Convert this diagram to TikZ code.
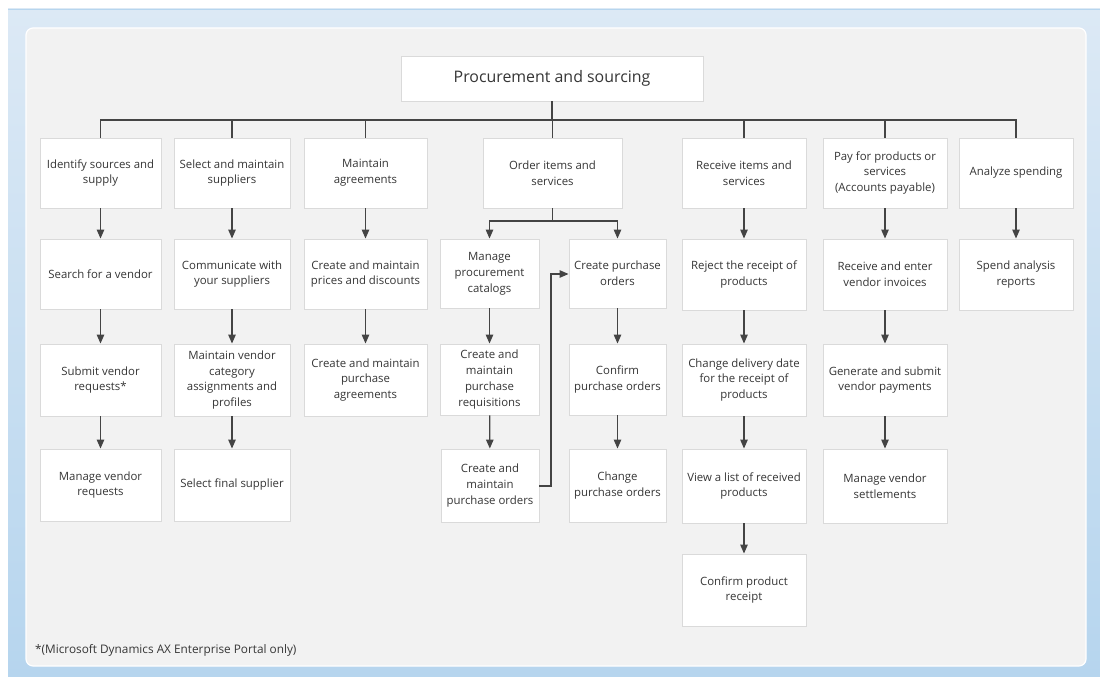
\documentclass[tikz,border=0pt]{standalone}
\usepackage{fontspec}
\setmainfont{Open Sans}
\usetikzlibrary{arrows.meta,calc}
\definecolor{bgblueT}{HTML}{DCE9F5}
\definecolor{bgblueB}{HTML}{B6D5EE}
\definecolor{panel}{HTML}{F2F2F2}
\definecolor{boxline}{HTML}{DADADA}
\definecolor{txt}{HTML}{363636}
\definecolor{conn}{HTML}{444444}
\newcommand{\bx}[6]{%
  \pgfmathsetmacro{\bw}{#3-#2}%
  \pgfmathsetmacro{\bh}{#5-#4}%
  \pgfmathsetmacro{\bcx}{(#2+#3)/2}%
  \pgfmathsetmacro{\bcy}{(#4+#5)/2}%
  \node[box,minimum width=\bw pt,minimum height=\bh pt] (#1) at (\bcx,\bcy) {#6};}
\begin{document}
\begin{tikzpicture}[x=1pt,y=-1pt,
  box/.style={draw=boxline,fill=white,line width=0.9pt,text=txt,align=center,inner sep=0pt,
    font=\fontsize{11.4}{15.8}\selectfont},
  conline/.style={draw=conn,line width=1.2pt},
  arr/.style={conline,-{Triangle[length=9pt,width=7.5pt]}}]
\useasboundingbox (0,0) rectangle (1100,677);
\fill[white] (0,0) rectangle (1100,677);
\shade[top color=bgblueT,bottom color=bgblueB] (8,9) rectangle (1100,677);
\draw[bgblueB,line width=0.8pt] (8,9.4) -- (1100,9.4);
\draw[white,line width=1.2pt,fill=panel,rounded corners=7pt] (26,28) rectangle (1086,666);
% header
\node[box,minimum width=302pt,minimum height=45pt,font=\fontsize{15.9}{18}\selectfont] (hdr) at (552,78.5) {Procurement and sourcing};
% level 1
\bx{a1}{40}{161}{138}{208}{Identify sources and\\supply}
\bx{b1}{174}{290}{138}{208}{Select and maintain\\suppliers}
\bx{c1}{304}{427}{138}{208}{Maintain\\agreements}
\bx{d1}{483}{622}{138}{208}{Order items and\\services}
\bx{e1}{682}{806}{138}{208}{Receive items and\\services}
\bx{f1}{823}{947}{138}{208}{Pay for products or\\services\\(Accounts payable)}
\bx{g1}{959}{1073}{138}{208}{Analyze spending}
% level 2
\bx{a2}{40}{161}{239}{309}{Search for a vendor}
\bx{b2}{174}{290}{239}{309}{Communicate with\\your suppliers}
\bx{c2}{304}{427}{239}{309}{Create and maintain\\prices and discounts}
\bx{da2}{440}{539}{239}{308}{Manage\\procurement\\catalogs}
\bx{db2}{569}{666}{239}{308}{Create purchase\\orders}
\bx{e2}{682}{806}{239}{310}{Reject the receipt of\\products}
\bx{f2}{823}{947}{239}{310}{Receive and enter\\vendor invoices}
\bx{g2}{959}{1073}{239}{310}{Spend analysis\\reports}
% level 3
\bx{a3}{40}{161}{344}{416}{Submit vendor\\requests*}
\bx{b3}{174}{290}{344}{416}{Maintain vendor\\category\\assignments and\\profiles}
\bx{c3}{304}{427}{344}{416}{Create and maintain\\purchase\\agreements}
\bx{da3}{440}{539}{344}{415}{Create and\\maintain\\purchase\\requisitions}
\bx{db3}{569}{666}{344}{415}{Confirm\\purchase orders}
\bx{e3}{682}{806}{344}{416}{Change delivery date\\for the receipt of\\products}
\bx{f3}{823}{947}{344}{416}{Generate and submit\\vendor payments}
% level 4
\bx{a4}{40}{161}{449}{521}{Manage vendor\\requests}
\bx{b4}{174}{290}{449}{521}{Select final supplier}
\bx{da4}{441}{539}{449}{522}{Create and\\maintain\\purchase orders}
\bx{db4}{569}{666}{449}{522}{Change\\purchase orders}
\bx{e4}{682}{806}{449}{523}{View a list of received\\products}
\bx{f4}{823}{947}{449}{523}{Manage vendor\\settlements}
% level 5
\bx{e5}{682}{806}{554}{626}{Confirm product\\receipt}
% footnote
\node[anchor=west,text=txt,inner sep=0pt,font=\fontsize{11.8}{13}\selectfont] (fn) at (35,650) {*(Microsoft Dynamics AX Enterprise Portal only)};
% bus
\coordinate (bus) at (552,120);
\draw[conline] (hdr.south) -- (hdr.south |- bus);
\draw[conline] (a1.north) -- (a1.north |- bus) -- (g1.north |- bus) -- (g1.north);
\foreach \n in {b1,c1,d1,e1,f1}{\draw[conline] (\n.north) -- (\n.north |- bus);}
% column arrows
\draw[arr] (a1) -- (a2); \draw[arr] (a2) -- (a3); \draw[arr] (a3) -- (a4);
\draw[arr] (b1) -- (b2); \draw[arr] (b2) -- (b3); \draw[arr] (b3) -- (b4);
\draw[arr] (c1) -- (c2); \draw[arr] (c2) -- (c3);
\draw[arr] (da2) -- (da3); \draw[arr] (da3) -- (da4);
\draw[arr] (db2) -- (db3); \draw[arr] (db3) -- (db4);
\draw[arr] (e1) -- (e2); \draw[arr] (e2) -- (e3); \draw[arr] (e3) -- (e4); \draw[arr] (e4) -- (e5);
\draw[arr] (f1) -- (f2); \draw[arr] (f2) -- (f3); \draw[arr] (f3) -- (f4);
\draw[arr] (g1) -- (g2);
% order split
\coordinate (split) at (552.5,221);
\draw[conline] (d1.south) -- (split);
\draw[arr] (split) -| (da2.north);
\draw[arr] (split) -| (db2.north);
% loop back
\coordinate (lp) at (551,486);
\draw[arr] (da4.east |- lp) -- (lp) -- (lp |- 0,274) -- (db2.west |- 0,274);
\end{tikzpicture}
\end{document}
